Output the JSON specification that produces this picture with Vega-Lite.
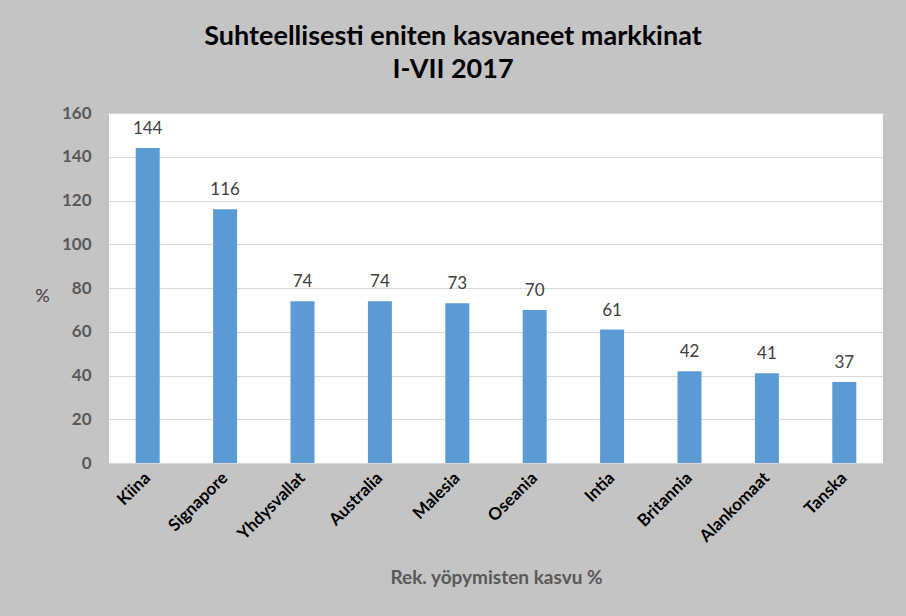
{
  "$schema": "https://vega.github.io/schema/vega-lite/v6.json",
  "width": 774,
  "height": 350,
  "autosize": {"type": "none"},
  "padding": {"left": 109, "top": 113, "right": 23, "bottom": 153},
  "background": "#c4c4c4",
  "title": {
    "text": ["Suhteellisesti eniten kasvaneet markkinat", "I-VII 2017"],
    "font": "Lato",
    "fontSize": 27,
    "fontWeight": "bold",
    "color": "#000000",
    "anchor": "middle",
    "dx": -43,
    "offset": 20,
    "lineHeight": 33
  },
  "data": {
    "values": [
      {"maa": "Kiina", "kasvu": 144},
      {"maa": "Signapore", "kasvu": 116},
      {"maa": "Yhdysvallat", "kasvu": 74},
      {"maa": "Australia", "kasvu": 74},
      {"maa": "Malesia", "kasvu": 73},
      {"maa": "Oseania", "kasvu": 70},
      {"maa": "Intia", "kasvu": 61},
      {"maa": "Britannia", "kasvu": 42},
      {"maa": "Alankomaat", "kasvu": 41},
      {"maa": "Tanska", "kasvu": 37}
    ]
  },
  "encoding": {
    "x": {
      "field": "maa",
      "type": "nominal",
      "sort": null,
      "scale": {"paddingInner": 0.69, "paddingOuter": 0.345},
      "axis": {
        "title": "Rek. yöpymisten kasvu %",
        "titleFont": "Lato",
        "titleFontSize": 19,
        "titleFontWeight": "bold",
        "titleColor": "#595959",
        "titleY": 114,
        "titleBaseline": "middle",
        "labelAngle": -45,
        "labelAlign": "right",
        "labelBaseline": "middle",
        "labelFont": "Lato",
        "labelFontSize": 17,
        "labelFontWeight": "bold",
        "labelColor": "#000000",
        "labelPadding": 12,
        "ticks": false,
        "domain": true,
        "domainColor": "#d9d9d9",
        "grid": false
      }
    },
    "y": {
      "field": "kasvu",
      "type": "quantitative",
      "scale": {"domain": [0, 160]},
      "axis": {
        "values": [0, 20, 40, 60, 80, 100, 120, 140, 160],
        "title": "%",
        "titleAngle": 0,
        "titleX": -67,
        "titleY": 183,
        "titleAlign": "center",
        "titleBaseline": "middle",
        "titleFont": "Lato",
        "titleFontSize": 18,
        "titleFontWeight": "normal",
        "titleColor": "#404040",
        "labelFont": "Lato",
        "labelFontSize": 17,
        "labelFontWeight": "bold",
        "labelColor": "#595959",
        "labelPadding": 18,
        "ticks": false,
        "domain": false,
        "gridColor": "#d9d9d9",
        "gridWidth": 1
      }
    }
  },
  "layer": [
    {"mark": {"type": "bar", "color": "#5b9bd5"}},
    {
      "mark": {"type": "text", "baseline": "bottom", "dy": -10, "font": "Lato", "fontSize": 17, "color": "#404040"},
      "encoding": {"text": {"field": "kasvu", "type": "quantitative"}}
    }
  ],
  "config": {
    "view": {"fill": "#ffffff", "stroke": null}
  }
}
